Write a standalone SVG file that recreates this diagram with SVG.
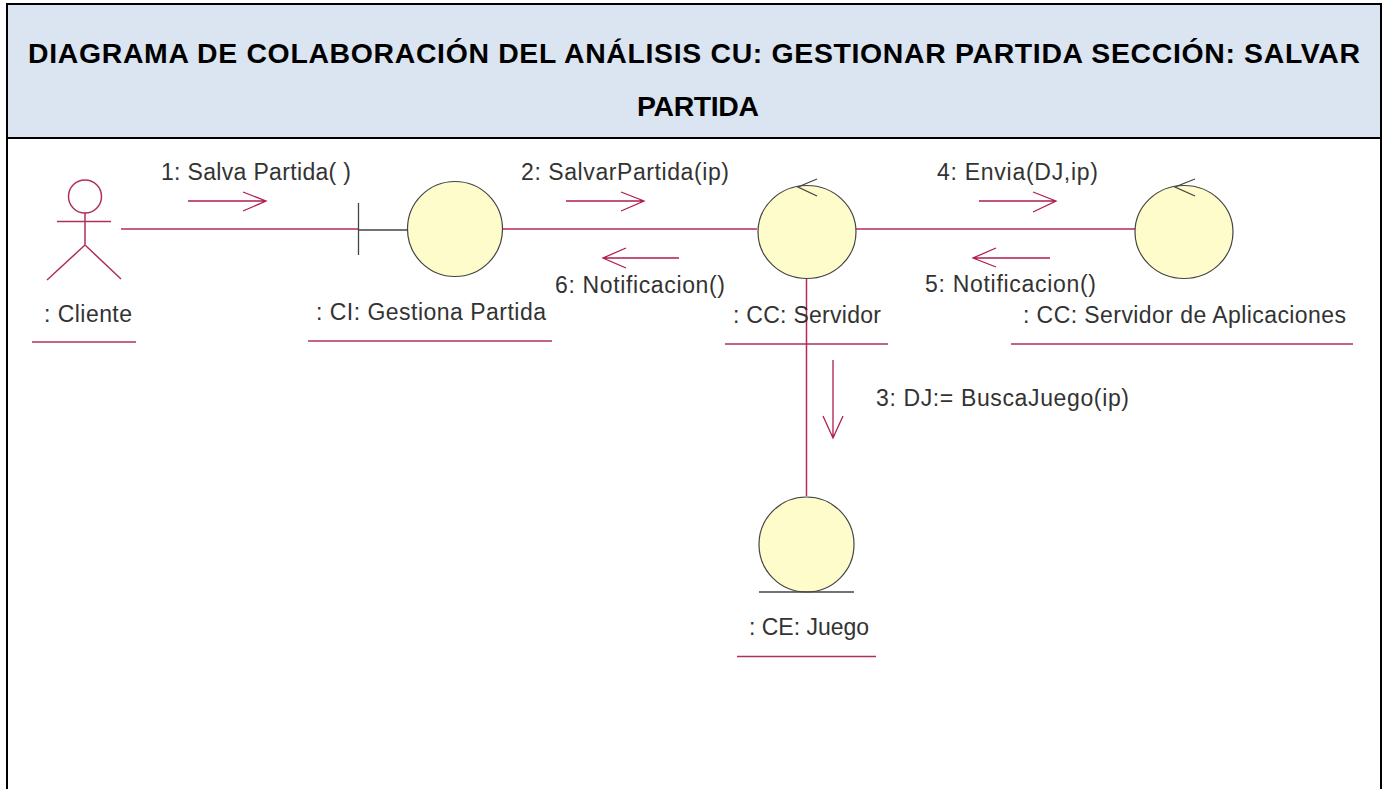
<svg xmlns="http://www.w3.org/2000/svg" width="1384" height="789" viewBox="0 0 1384 789">
<style>
.t{font-family:"Liberation Sans",Arial,sans-serif;font-size:28.4px;font-weight:bold;fill:#000}
.l{font-family:"Liberation Sans",Arial,sans-serif;font-size:23px;fill:#333}
.u{stroke:#b0305c;stroke-width:1.5;fill:none}
.c{stroke:#b8285a;stroke-width:1.5;fill:none}
.a{stroke:#b01c50;stroke-width:1.3;fill:none}
.o{fill:#fefccb;stroke:#444;stroke-width:1.2}
.k{stroke:#444;stroke-width:1.3;fill:none}
.b{stroke:#000;stroke-width:2;fill:none}
</style>
<rect width="1384" height="789" fill="#fff"/>
<g id="header">
<rect x="7" y="4" width="1374" height="134" fill="#dbe5f1"/>
<path class="b" d="M7 4H1381M7 138H1381M7 3V789M1381 3V789"/>
<text class="t" x="28" y="63" textLength="1332">DIAGRAMA DE COLABORACIÓN DEL ANÁLISIS CU: GESTIONAR PARTIDA SECCIÓN: SALVAR</text>
<text class="t" x="637" y="116" textLength="122">PARTIDA</text>
</g>
<g id="connectors">
<path class="c" d="M121 229H358M503 229H757M856 229H1135M806.500 279V496"/>
<path class="a" d="M188 201H266M243 192L266 201L243 211"/>
<path class="a" d="M566 201H644M621 192L644 201L621 211"/>
<path class="a" d="M979 201H1056M1033 192L1056 201L1033 212"/>
<path class="a" d="M1050 258H973M996 248L973 258L996 267"/>
<path class="a" d="M679 258H603M626 248L603 258L626 268"/>
<path class="a" d="M833 360V438M823 416L833 438L843 416"/>
<text class="l" x="161" y="180" textLength="190">1: Salva Partida( )</text>
<text class="l" x="521" y="180" textLength="208">2: SalvarPartida(ip)</text>
<text class="l" x="937" y="180" textLength="161">4: Envia(DJ,ip)</text>
<text class="l" x="925" y="292" textLength="171">5: Notificacion()</text>
<text class="l" x="555" y="293" textLength="170">6: Notificacion()</text>
<text class="l" x="876" y="406" textLength="253">3: DJ:= BuscaJuego(ip)</text>
</g>
<g id="cliente">
<circle class="u" cx="85" cy="196.500" r="16.5"/>
<path class="u" d="M85 213V245M57 221.500H111M85 245L47 280M85 245L121 279"/>
<text class="l" x="44" y="322" textLength="88">: Cliente</text>
<path class="u" d="M32 342H136"/>
</g>
<g id="gestiona">
<path class="k" d="M358.500 203V255M358 230H407"/>
<circle class="o" cx="455" cy="229" r="47.5"/>
<text class="l" x="316" y="320" textLength="230">: CI: Gestiona Partida</text>
<path class="u" d="M308 341H552"/>
</g>
<g id="servidor">
<ellipse class="o" cx="807" cy="232" rx="49" ry="46.500"/>
<path class="k" d="M817 179L798 187L817 196"/>
<text class="l" x="733" y="323" textLength="148">: CC: Servidor</text>
<path class="u" d="M725 344H888"/>
</g>
<g id="aplicaciones">
<ellipse class="o" cx="1184" cy="232" rx="49" ry="46.500"/>
<path class="k" d="M1195 179L1175 187L1195 196"/>
<text class="l" x="1023" y="323" textLength="323">: CC: Servidor de Aplicaciones</text>
<path class="u" d="M1011 344H1353"/>
</g>
<g id="juego">
<circle class="o" cx="806.500" cy="544.500" r="47.5"/>
<path class="k" d="M759 592H854"/>
<text class="l" x="749" y="635" textLength="120">: CE: Juego</text>
<path class="u" d="M737 656.500H876"/>
</g>
</svg>
